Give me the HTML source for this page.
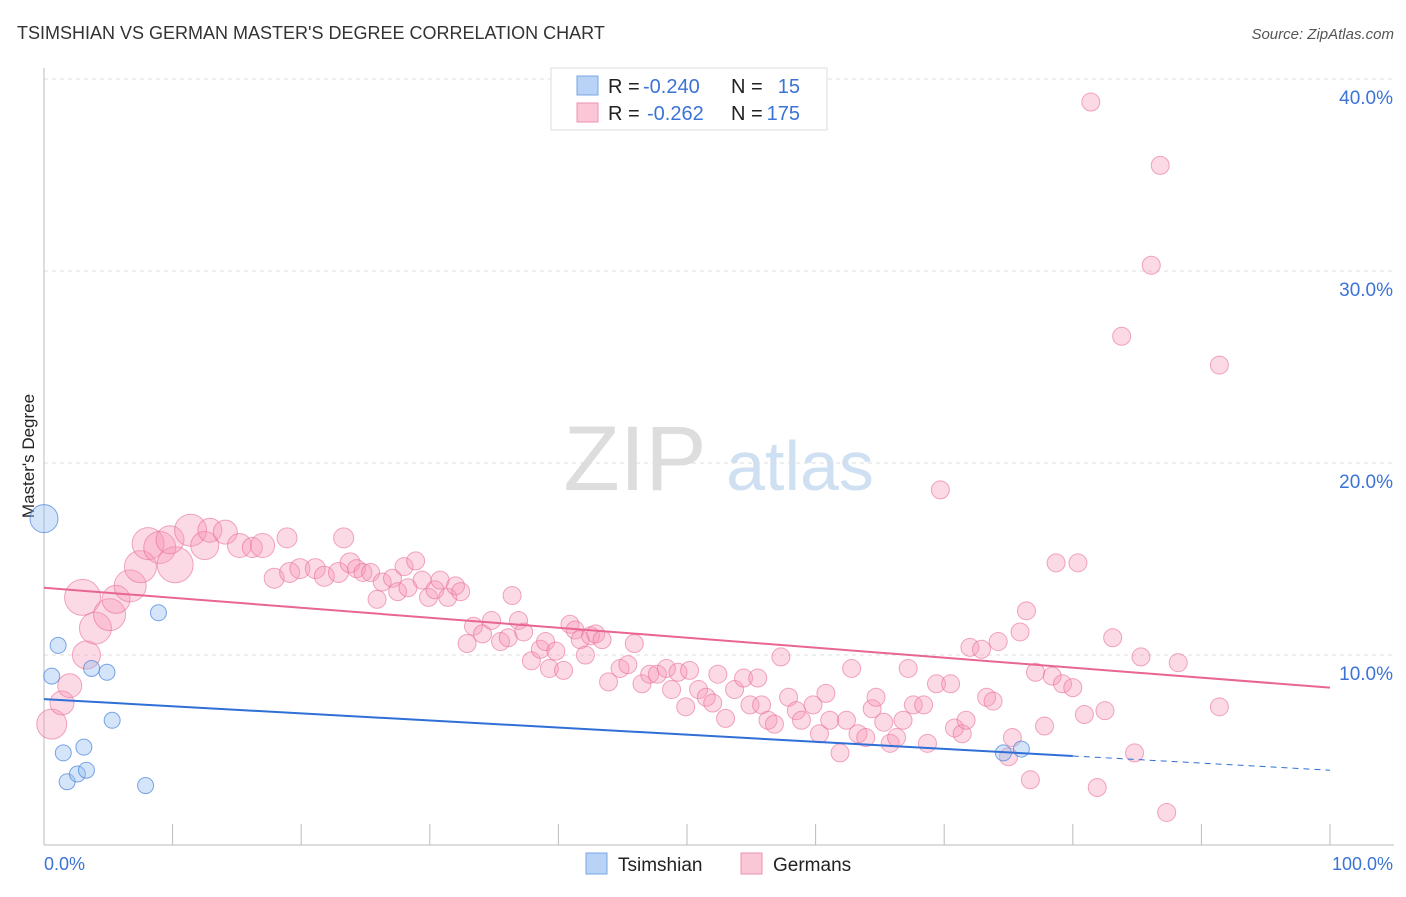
<!DOCTYPE html>
<html><head><meta charset="utf-8"><style>
body{margin:0;background:#fff;font-family:"Liberation Sans",sans-serif;}
svg text{font-family:"Liberation Sans",sans-serif;}
</style></head><body>
<svg id="c" width="1406" height="892" xmlns="http://www.w3.org/2000/svg">
<text x="17" y="39" font-size="18" fill="#333">TSIMSHIAN VS GERMAN MASTER'S DEGREE CORRELATION CHART</text>
<text x="1394" y="39" font-size="15" fill="#555" font-style="italic" text-anchor="end">Source: ZipAtlas.com</text>
<text x="34" y="456" font-size="17" fill="#222" text-anchor="middle" transform="rotate(-90 34 456)">Master's Degree</text>
<g><text x="635" y="490" font-size="92" fill="#ddd" font-family="Liberation Serif,serif" text-anchor="middle">ZIP</text><text x="800" y="490" font-size="70" fill="#cfe0f3" text-anchor="middle">atlas</text></g>
<g id="grid"></g><g id="marks"></g>
<g>
<rect x="551" y="68" width="276" height="62" fill="#fff" stroke="#ddd"/>
<rect x="577" y="76" width="21" height="19" fill="#b8d3f5" stroke="#7aa6e3"/>
<rect x="577" y="103" width="21" height="19" fill="#fbc6d6" stroke="#eb93b0"/>
<text x="608" y="93" font-size="20" fill="#222">R = </text><text x="643" y="93" font-size="20" fill="#3b73d6">-0.240</text>
<text x="731" y="93" font-size="20" fill="#222">N = </text><text x="800" y="93" font-size="20" fill="#3b73d6" text-anchor="end">15</text>
<text x="608" y="120" font-size="20" fill="#222">R = </text><text x="647" y="120" font-size="20" fill="#3b73d6">-0.262</text>
<text x="731" y="120" font-size="20" fill="#222">N = </text><text x="800" y="120" font-size="20" fill="#3b73d6" text-anchor="end">175</text>
</g>
<g>
<rect x="586" y="853" width="21" height="21" fill="#b8d3f5" stroke="#7aa6e3"/><text x="618" y="871" font-size="19" fill="#222">Tsimshian</text>
<rect x="741" y="853" width="21" height="21" fill="#fbc6d6" stroke="#eb93b0"/><text x="773" y="871" font-size="19" fill="#222">Germans</text>
</g>
</svg>
<script>
const yTicks=[10,20,30,40];
const yTickLabels=["10.0%","20.0%","30.0%","40.0%"];
const xEndLabels=["0.0%","100.0%"];
const blueData=[[0,17.1,14],[1.1,10.5,8],[0.6,8.9,8],[3.7,9.3,8],[4.9,9.1,8],[8.9,12.2,8],[5.3,6.6,8],[1.5,4.9,8],[3.1,5.2,8],[1.8,3.4,8],[2.6,3.8,8],[3.3,4.0,8],[7.9,3.2,8],[74.6,4.9,8],[76,5.1,8]];
const pinkData=[[0.6,6.4,15],[1.4,7.5,12],[2.0,8.4,12],[3.3,10.0,14],[3.0,13.0,18],[4.0,11.4,16],[5.1,12.1,16],[5.6,12.9,14],[6.7,13.6,16],[7.5,14.6,16],[8.1,15.8,16],[9.0,15.6,16],[10.2,14.7,18],[9.8,16.0,14],[11.4,16.5,16],[12.5,15.7,14],[12.9,16.5,12],[14.1,16.4,12],[15.2,15.7,12],[16.2,15.6,10],[17.0,15.7,12],[18.9,16.1,10],[17.9,14.0,10],[19.1,14.3,10],[19.9,14.5,10],[21.1,14.5,10],[21.8,14.1,10],[22.9,14.3,10],[23.3,16.1,10],[23.8,14.8,10],[24.3,14.5,9],[24.8,14.3,9],[25.4,14.3,9],[25.9,12.9,9],[26.3,13.8,9],[27.1,14.0,9],[27.5,13.3,9],[28.0,14.6,9],[28.9,14.9,9],[28.3,13.5,9],[29.4,13.9,9],[29.9,13.0,9],[30.4,13.4,9],[30.8,13.9,9],[31.4,13.0,9],[32.0,13.6,9],[32.4,13.3,9],[36.4,13.1,9],[33.4,11.5,9],[34.1,11.1,9],[34.8,11.8,9],[35.5,10.7,9],[36.1,10.9,9],[36.9,11.8,9],[37.3,11.2,9],[32.9,10.6,9],[37.9,9.7,9],[38.6,10.3,9],[39.0,10.7,9],[39.8,10.2,9],[39.3,9.3,9],[40.4,9.2,9],[40.9,11.6,9],[41.3,11.3,9],[41.7,10.8,9],[42.5,11.0,9],[42.9,11.1,9],[43.4,10.8,9],[42.1,10.0,9],[45.9,10.6,9],[43.9,8.6,9],[44.8,9.3,9],[45.4,9.5,9],[46.5,8.5,9],[47.1,9.0,9],[47.7,9.0,9],[48.4,9.3,9],[49.3,9.1,9],[50.2,9.2,9],[48.8,8.2,9],[49.9,7.3,9],[50.9,8.2,9],[51.5,7.8,9],[52.0,7.5,9],[53.0,6.7,9],[52.4,9.0,9],[53.7,8.2,9],[54.4,8.8,9],[54.9,7.4,9],[55.5,8.8,9],[55.8,7.4,9],[56.3,6.6,9],[56.8,6.4,9],[57.3,9.9,9],[57.9,7.8,9],[58.5,7.1,9],[58.9,6.6,9],[59.8,7.4,9],[60.8,8.0,9],[60.3,5.9,9],[61.1,6.6,9],[61.9,4.9,9],[62.4,6.6,9],[62.8,9.3,9],[63.3,5.9,9],[63.9,5.7,9],[64.4,7.2,9],[64.7,7.8,9],[65.3,6.5,9],[65.8,5.4,9],[66.3,5.7,9],[66.8,6.6,9],[67.2,9.3,9],[67.6,7.4,9],[68.4,7.4,9],[68.7,5.4,9],[69.4,8.5,9],[70.5,8.5,9],[69.7,18.6,9],[70.8,6.2,9],[71.4,5.9,9],[71.7,6.6,9],[72.0,10.4,9],[72.9,10.3,9],[73.3,7.8,9],[73.8,7.6,9],[74.2,10.7,9],[75.0,4.7,9],[75.3,5.7,9],[75.9,11.2,9],[76.4,12.3,9],[76.7,3.5,9],[77.1,9.1,9],[77.8,6.3,9],[78.4,8.9,9],[78.7,14.8,9],[79.2,8.5,9],[80.0,8.3,9],[80.4,14.8,9],[80.9,6.9,9],[81.4,38.8,9],[81.9,3.1,9],[82.5,7.1,9],[83.1,10.9,9],[83.8,26.6,9],[84.8,4.9,9],[85.3,9.9,9],[86.1,30.3,9],[86.8,35.5,9],[87.3,1.8,9],[88.2,9.6,9],[91.4,25.1,9],[91.4,7.3,9]];
const pinkTrend=[13.5,8.3];
const blueTrend=[7.7,4.0];
const blueSolidEnd=80;

const NS="http://www.w3.org/2000/svg";
const X=v=>44+v*12.86, Y=v=>847-v*19.2;
function mk(p,tag,a){const e=document.createElementNS(NS,tag);for(const k in a)e.setAttribute(k,a[k]);p.appendChild(e);return e;}
const grid=document.getElementById('grid'), marks=document.getElementById('marks');
yTicks.forEach((t,i)=>{
  const l=mk(grid,'line',{x1:44,x2:1394,y1:Y(t),y2:Y(t),stroke:'#ddd','stroke-dasharray':'4 4'});
  
  
  const tx=mk(grid,'text',{x:1393,y:Y(t)+25,'font-size':19,fill:'#3b73d6','text-anchor':'end'});
  tx.textContent=yTickLabels[i];
  
  
});
const ax=mk(grid,'line',{x1:44,x2:1394,y1:845,y2:845,stroke:'#bbb'});


const ay=mk(grid,'line',{x1:44,x2:44,y1:68,y2:845,stroke:'#bbb'});


for(let i=1;i<=10;i++){const t=mk(grid,'line',{x1:X(i*10),x2:X(i*10),y1:824,y2:845,stroke:'#bbb'});
  
  }
[[0,'start',44],[100,'end',1393]].forEach((d,i)=>{const t=mk(grid,'text',{x:d[2],y:870,'font-size':18,fill:'#3b73d6','text-anchor':d[1]});t.textContent=xEndLabels[i];
  
  });
pinkData.forEach(d=>{const c=mk(marks,'circle',{cx:X(d[0]),cy:Y(d[1]),r:d[2],fill:'rgba(245,150,180,0.35)',stroke:'rgba(232,110,150,0.6)','stroke-width':1});
  
  });
blueData.forEach(d=>{const c=mk(marks,'circle',{cx:X(d[0]),cy:Y(d[1]),r:d[2],fill:'rgba(150,190,240,0.4)',stroke:'rgba(70,130,220,0.7)','stroke-width':1});
  
  });
const pl=mk(marks,'line',{x1:X(0),y1:Y(pinkTrend[0]),x2:X(100),y2:Y(pinkTrend[1]),stroke:'#e8668f','stroke-width':2});


const bm=blueTrend[0]+(blueTrend[1]-blueTrend[0])*blueSolidEnd/100;
const bl=mk(marks,'line',{x1:X(0),y1:Y(blueTrend[0]),x2:X(blueSolidEnd),y2:Y(bm),stroke:'#2f6fd6','stroke-width':2});


const bd=mk(marks,'line',{x1:X(blueSolidEnd),y1:Y(bm),x2:X(100),y2:Y(blueTrend[1]),stroke:'#2f6fd6','stroke-width':1,'stroke-dasharray':'6 5'});


</script>
</body></html>
